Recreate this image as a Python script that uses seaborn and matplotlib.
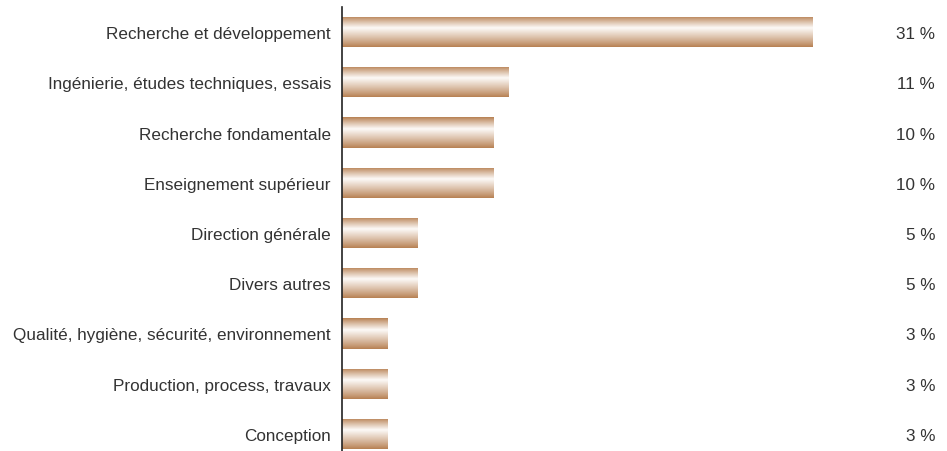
import numpy as np
import matplotlib
matplotlib.use("Agg")
import matplotlib.pyplot as plt
import seaborn as sns
import pandas as pd

categories = [
    "Recherche et développement",
    "Ingénierie, études techniques, essais",
    "Recherche fondamentale",
    "Enseignement supérieur",
    "Direction générale",
    "Divers autres",
    "Qualité, hygiène, sécurité, environnement",
    "Production, process, travaux",
    "Conception",
]
values = [31, 11, 10, 10, 5, 5, 3, 3, 3]
value_labels = ["31 %", "11 %", "10 %", "10 %", "5 %", "5 %", "3 %", "3 %", "3 %"]

sns.set_theme(style="white")
plt.rcParams["font.family"] = ["Liberation Sans", "DejaVu Sans"]

df = pd.DataFrame({"categorie": categories, "part": values})

fig = plt.figure(figsize=(9.47, 4.52), dpi=100)
ax = fig.add_axes([342 / 947, 0.0, 605 / 947, 444 / 452])

sns.barplot(data=df, x="part", y="categorie", orient="h", ax=ax,
            color="#B98355", width=0.6, saturation=1, edgecolor="none")

# vertical shading: tan at the edges, near white just above the middle
tan = np.array([183, 128, 82]) / 255.0
light = np.array([0.99, 0.98, 0.97])
t = np.linspace(0, 1, 80)
c = 0.38
d = np.where(t < c, (c - t) / c, (t - c) / (1 - c))
w = np.clip(1 - d, 0, 1) ** 0.9
rgb = tan[None, :] * (1 - w[:, None]) + light[None, :] * w[:, None]
grad = rgb[:, None, :]

for p in ax.patches:
    x0, y0 = p.get_x(), p.get_y()
    wd, ht = p.get_width(), p.get_height()
    im = ax.imshow(grad, extent=[x0, x0 + wd, y0 + ht, y0], aspect="auto",
                   interpolation="bilinear", zorder=p.get_zorder() + 0.1)
    im.set_clip_path(p)

ax.set_xlim(0, 39.9)
ax.set_ylim(8.34, -0.5)
ax.set_xlabel("")
ax.set_ylabel("")
ax.set_xticks([])
ax.tick_params(axis="y", length=0, pad=8, labelsize=12.3, labelcolor="#333333")
for s in ["top", "right", "bottom"]:
    ax.spines[s].set_visible(False)
ax.spines["left"].set_color("#222222")
ax.spines["left"].set_linewidth(1.2)

# percentage labels, right-aligned near the right edge of the figure
x_right = (935 - 342) / 605 * 39.9
for i, lab in enumerate(value_labels):
    ax.text(x_right, i, lab, ha="right", va="center_baseline",
            fontsize=12.3, color="#333333")

fig.savefig("out.png", dpi=100, facecolor="white")
